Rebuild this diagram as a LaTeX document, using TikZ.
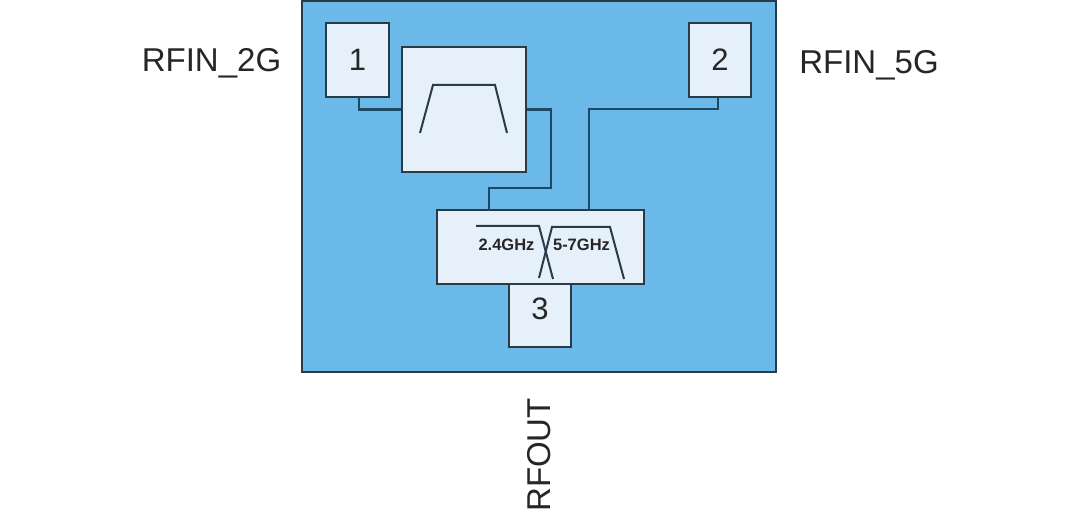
\documentclass[tikz,border=0pt]{standalone}
\usepackage{fontspec}
\setmainfont{Liberation Sans}
\definecolor{bodyblue}{HTML}{6BB9E8}
\definecolor{boxfill}{HTML}{E6F0FA}
\definecolor{edgeink}{HTML}{2A3A46}
\definecolor{wireink}{HTML}{1C4A66}
\definecolor{txtink}{HTML}{262626}
\tikzset{
  chip/.style={draw=edgeink,fill=bodyblue,line width=2.2pt,inner sep=0pt,minimum width=474pt,minimum height=371pt},
  pinbox/.style={draw=edgeink,fill=boxfill,line width=2.2pt,inner sep=0pt},
  blockbox/.style={draw=edgeink,fill=boxfill,line width=2.2pt,inner sep=0pt},
  wire/.style={draw=wireink,line width=2.2pt,line join=miter},
  curve/.style={draw=edgeink,line width=2pt},
  pinlabel/.style={text=txtink,inner sep=0pt,font=\fontsize{33}{35}\selectfont},
  numlabel/.style={text=txtink,inner sep=0pt,font=\fontsize{31}{33}\selectfont},
  bandlabel/.style={text=txtink,inner sep=0pt,font=\bfseries\fontsize{16.5}{18}\selectfont}
}
\begin{document}
\begin{tikzpicture}[x=1pt,y=-1pt]
\useasboundingbox (0,0) rectangle (1080,510);
\node[chip] (body) at (539,186.5) {};
\node[blockbox,minimum width=124pt,minimum height=125pt] (filter) at (464,109.5) {};
\node[blockbox,minimum width=207pt,minimum height=74pt] (mux) at (540.5,247) {};
\node[pinbox,minimum width=63pt,minimum height=74pt] (p1) at (357.5,60) {};
\node[pinbox,minimum width=62pt,minimum height=74pt] (p2) at (720,60) {};
\node[pinbox,minimum width=62pt,minimum height=63pt] (p3) at (540,315.5) {};
\node[numlabel] (n1) at (357.5,59.5) {1};
\node[numlabel] (n2) at (720,59.5) {2};
\node[numlabel] (n3) at (540,309) {3};
\coordinate (w1) at (359,97);
\coordinate (w2) at (718,97);
\coordinate (m1) at (489,210);
\coordinate (m2) at (589,210);
\coordinate (r1) at (551,188);
\draw[wire] (w1) |- (filter.west);
\draw[wire] (filter.east) -| (r1) -| (m1);
\draw[wire] (w2) |- (m2 |- 0,109) -- (m2);
\draw[curve] (420,133) -- (433,85) -- (495,85) -- (507,133);
\draw[curve] (476,226) -- (539,226) -- (553,279);
\draw[curve] (539,278) -- (552,227) -- (610,227) -- (624,279);
\node[bandlabel] (b1) at (506.5,245) {2.4GHz};
\node[bandlabel] (b2) at (581.5,245) {5-7GHz};
\node[pinlabel] (lab1) at (211.5,63) {RFIN\_2G};
\node[pinlabel] (lab2) at (869,65) {RFIN\_5G};
\node[pinlabel,rotate=90] (lab3) at (539,455) {RFOUT};
\end{tikzpicture}
\end{document}
